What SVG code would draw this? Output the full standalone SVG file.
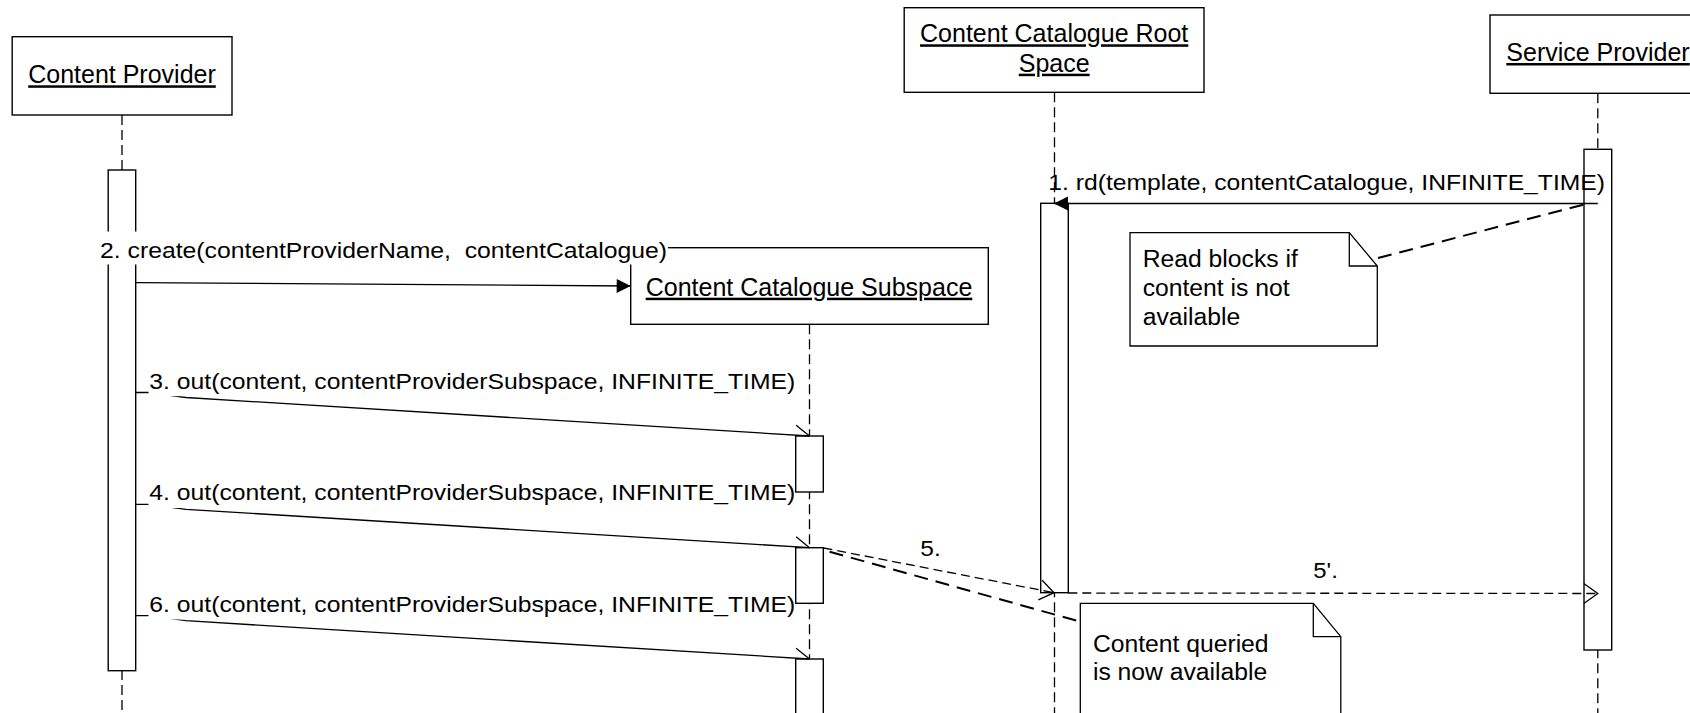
<svg xmlns="http://www.w3.org/2000/svg" width="1690" height="713" viewBox="0 0 1690 713">
  <defs>
    <style>
      .box{fill:#fff;stroke:#000;stroke-width:1.4}
      .act{fill:#fff;stroke:#000;stroke-width:1.4}
      .life{fill:none;stroke:#000;stroke-width:1.3;stroke-dasharray:10 5}
      .msg{fill:none;stroke:#000;stroke-width:1.3}
      .ret{fill:none;stroke:#000;stroke-width:1.3;stroke-dasharray:9 5}
      .anchor{fill:none;stroke:#000;stroke-width:2;stroke-dasharray:14 8}
      .note{fill:#fff;stroke:#000;stroke-width:1.3}
      .fold{fill:none;stroke:#000;stroke-width:1.3}
      .bg{fill:#fff;stroke:none}
      text{font-family:"Liberation Sans",Arial,Helvetica,sans-serif;fill:#000;white-space:pre}
      .head{font-size:25px;text-anchor:middle;text-decoration:underline}
      .lbl{font-size:22.5px}
      .ntxt{font-size:23.5px}
    </style>
    <!-- synchronous call: filled triangle -->
    <marker id="filled" markerUnits="userSpaceOnUse" viewBox="-16 -10 18 20" markerWidth="18" markerHeight="20" refX="0" refY="0" orient="auto" overflow="visible">
      <path d="M-14,-7 L0,0 L-14,7 Z" fill="#000"/>
    </marker>
    <!-- reply / notification: open stick arrow -->
    <marker id="open" markerUnits="userSpaceOnUse" viewBox="-16 -12 18 24" markerWidth="18" markerHeight="24" refX="0" refY="0" orient="auto" overflow="visible">
      <path d="M-14,-10 L0,0 L-14,10" fill="none" stroke="#000" stroke-width="1.3"/>
    </marker>
    <!-- asynchronous send: half stick arrow -->
    <marker id="half" markerUnits="userSpaceOnUse" viewBox="-16 -12 18 24" markerWidth="18" markerHeight="24" refX="0" refY="0" orient="auto" overflow="visible">
      <path d="M-14,-10 L0,0" fill="none" stroke="#000" stroke-width="1.3"/>
    </marker>
  </defs>

  <rect x="0" y="0" width="1690" height="713" fill="#fff"/>

  <!-- participants -->
  <g id="content-provider">
    <path class="life" d="M122,115 V713"/>
    <rect class="box" x="12.2" y="36.7" width="219.8" height="78.3"/>
    <text class="head" x="122" y="83.3">Content Provider</text>
    <rect class="act" x="108.2" y="170" width="27.5" height="500.7"/>
  </g>

  <g id="root-space">
    <path class="life" d="M1054.5,92.3 V713"/>
    <rect class="box" x="904.2" y="7.7" width="299.8" height="84.6"/>
    <text class="head" x="1054.2" y="42.3">Content Catalogue Root</text>
    <text class="head" x="1054.2" y="71.7">Space</text>
    <rect class="act" x="1040.7" y="203.3" width="27.6" height="389.4"/>
  </g>

  <g id="service-provider">
    <path class="life" d="M1597.8,93.3 V713"/>
    <rect class="box" x="1490" y="15" width="230" height="78.3"/>
    <text class="head" x="1598" y="61">Service Provider</text>
    <rect class="act" x="1584" y="149.3" width="27.7" height="500.7"/>
  </g>

  <g id="catalogue-subspace">
    <path class="life" d="M809.5,324.3 V713"/>
    <rect class="box" x="630.7" y="247.7" width="357.6" height="76.6"/>
    <text class="head" x="809" y="295.7">Content Catalogue Subspace</text>
    <rect class="act" x="795.7" y="436" width="27.6" height="56"/>
    <rect class="act" x="795.7" y="547.7" width="27.6" height="55.6"/>
    <rect class="act" x="795.7" y="659" width="27.6" height="70"/>
  </g>

  <!-- messages -->
  <g id="connectors">
    <!-- 1. rd -->
    <path class="msg" d="M1597.8,203.5 L1054,203.5" marker-end="url(#filled)"/>
    <text class="lbl" x="1048.3" y="189.5" textLength="556.7" lengthAdjust="spacingAndGlyphs">1. rd(template, contentCatalogue, INFINITE_TIME)</text>

    <!-- 2. create -->
    <path class="msg" d="M135.7,282.6 L630.7,286" marker-end="url(#filled)"/>
    <rect class="bg" x="99" y="231.5" width="569" height="33"/>
    <text class="lbl" x="100" y="258" textLength="567" lengthAdjust="spacingAndGlyphs">2. create(contentProviderName,  contentCatalogue)</text>

    <!-- 3. out -->
    <path class="msg" d="M135.7,392.5 H149 L186,397.5 L809.5,436" marker-end="url(#half)"/>
    <rect class="bg" x="148.5" y="365" width="646.5" height="31.2"/>
    <text class="lbl" x="149.3" y="388.5" textLength="646" lengthAdjust="spacingAndGlyphs">3. out(content, contentProviderSubspace, INFINITE_TIME)</text>

    <!-- 4. out -->
    <path class="msg" d="M135.7,504.3 H149 L186,509.3 L809.5,547.7" marker-end="url(#half)"/>
    <rect class="bg" x="148.5" y="476.5" width="646.5" height="31.5"/>
    <text class="lbl" x="149.3" y="500" textLength="646" lengthAdjust="spacingAndGlyphs">4. out(content, contentProviderSubspace, INFINITE_TIME)</text>

    <!-- 6. out -->
    <path class="msg" d="M135.7,615.7 H149 L186,620.7 L809.5,659" marker-end="url(#half)"/>
    <rect class="bg" x="148.5" y="588" width="646.5" height="31.5"/>
    <text class="lbl" x="149.3" y="611.5" textLength="646" lengthAdjust="spacingAndGlyphs">6. out(content, contentProviderSubspace, INFINITE_TIME)</text>

    <!-- 5. notification to root space -->
    <path class="ret" d="M823.5,548 L1054,592.7" marker-end="url(#open)"/>
    <text class="lbl" x="920.3" y="555.5" textLength="20.5" lengthAdjust="spacingAndGlyphs">5.</text>

    <!-- 5'. notification to service provider -->
    <path class="ret" d="M1068.3,593 L1597.8,593.5" marker-end="url(#open)"/>
    <text class="lbl" x="1313.3" y="578.3" textLength="24.5" lengthAdjust="spacingAndGlyphs">5'.</text>

    <!-- note anchors -->
    <path class="anchor" d="M1378,258 L1584,204.5"/>
    <path class="anchor" d="M829.6,551.7 L1080.3,621.7"/>
  </g>

  <!-- notes -->
  <g id="note-read-blocks">
    <path class="note" d="M1130,232.7 H1349.3 L1377.3,266 V346 H1130 Z"/>
    <path class="fold" d="M1349.3,232.7 V266 H1377.3"/>
    <text class="ntxt" x="1142.7" y="267.3" textLength="155.1" lengthAdjust="spacingAndGlyphs">Read blocks if</text>
    <text class="ntxt" x="1142.7" y="296" textLength="146.9" lengthAdjust="spacingAndGlyphs">content is not</text>
    <text class="ntxt" x="1142.7" y="325" textLength="97.5" lengthAdjust="spacingAndGlyphs">available</text>
  </g>

  <g id="note-content-available">
    <path class="note" d="M1080.3,603.3 H1313.3 L1340.8,636.7 V730 H1080.3 Z"/>
    <path class="fold" d="M1313.3,603.3 V636.7 H1340.8"/>
    <text class="ntxt" x="1092.9" y="651.7" textLength="175.7" lengthAdjust="spacingAndGlyphs">Content queried</text>
    <text class="ntxt" x="1092.9" y="680" textLength="174.3" lengthAdjust="spacingAndGlyphs">is now available</text>
  </g>
</svg>
